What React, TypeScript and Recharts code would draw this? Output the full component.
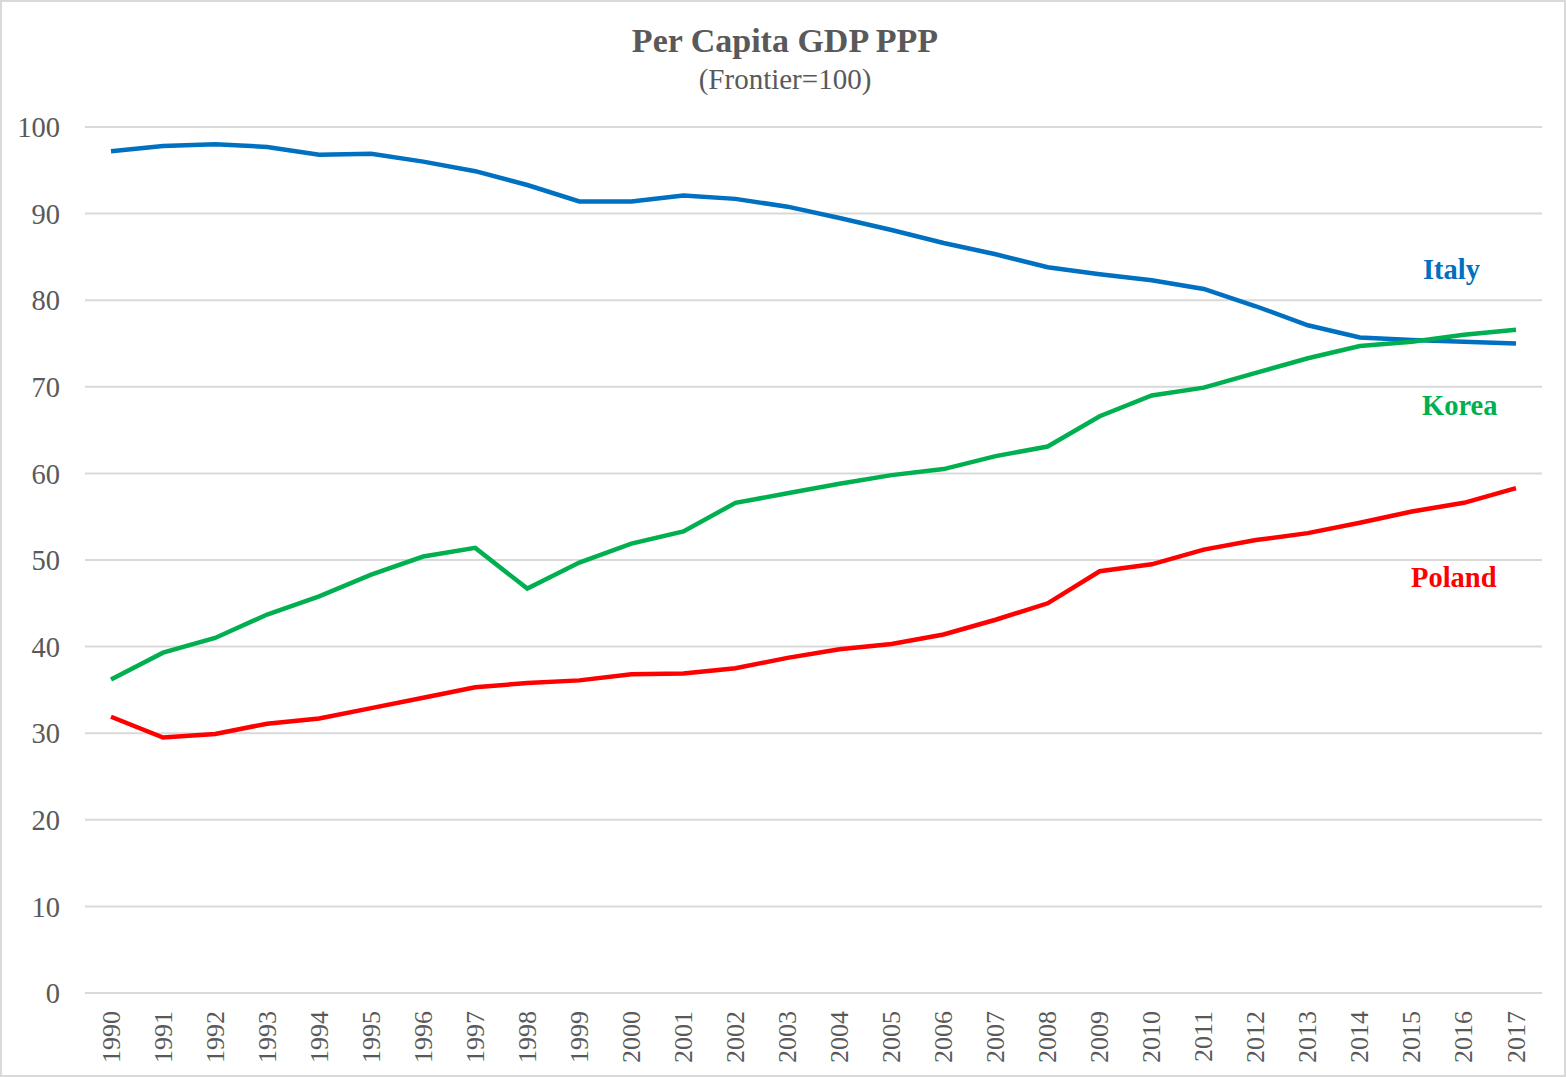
import { LineChart, Line, XAxis, YAxis, CartesianGrid } from 'recharts';

const YEARS = [
  '1990', '1991', '1992', '1993', '1994', '1995', '1996', '1997', '1998', '1999',
  '2000', '2001', '2002', '2003', '2004', '2005', '2006', '2007', '2008', '2009',
  '2010', '2011', '2012', '2013', '2014', '2015', '2016', '2017',
];

const ITALY = [
  97.2, 97.8, 98.0, 97.7, 96.8, 96.9, 96.0, 94.9, 93.3, 91.4,
  91.4, 92.1, 91.7, 90.8, 89.5, 88.1, 86.6, 85.3, 83.8, 83.0,
  82.3, 81.3, 79.3, 77.1, 75.7, 75.4, 75.2, 75.0,
];

const KOREA = [
  36.2, 39.3, 41.0, 43.7, 45.8, 48.3, 50.4, 51.4, 46.7, 49.7,
  51.9, 53.3, 56.6, 57.7, 58.8, 59.8, 60.5, 62.0, 63.1, 66.6,
  69.0, 69.9, 71.6, 73.3, 74.7, 75.2, 76.0, 76.6,
];

const POLAND = [
  31.9, 29.5, 29.9, 31.1, 31.7, 32.9, 34.1, 35.3, 35.8, 36.1,
  36.8, 36.9, 37.5, 38.7, 39.7, 40.3, 41.4, 43.1, 45.0, 48.7,
  49.5, 51.2, 52.3, 53.1, 54.3, 55.6, 56.6, 58.3,
];

const Y_TICKS = [0, 10, 20, 30, 40, 50, 60, 70, 80, 90, 100];

const data = YEARS.map((year, i) => ({
  year,
  italy: ITALY[i],
  korea: KOREA[i],
  poland: POLAND[i],
}));

const FONT = '"Liberation Serif", "Times New Roman", serif';
const TEXT_GRAY = '#595959';

// rotated year labels under the axis
function YearTick(props: any) {
  const { x, y, payload } = props;
  return (
    <text
      x={x}
      y={y + 10}
      transform={`rotate(-90, ${x}, ${y + 10})`}
      textAnchor="end"
      dominantBaseline="central"
      fontFamily={FONT}
      fontSize={26}
      fill={TEXT_GRAY}
    >
      {payload.value}
    </text>
  );
}

const labelStyle = (color: string, left: number, top: number) => ({
  position: 'absolute' as const,
  left,
  top,
  fontFamily: FONT,
  fontWeight: 700,
  fontSize: 28.5,
  color,
  lineHeight: 1,
});

export default function App() {
  return (
    <div style={{ position: 'fixed', left: 0, top: 0, width: 1566, height: 1077, background: '#fff' }}>
      <LineChart
        width={1566}
        height={1077}
        data={data}
        margin={{ top: 127, right: 24, left: 0, bottom: 0 }}
      >
        <CartesianGrid vertical={false} stroke="#d9d9d9" strokeWidth={2} />
        <XAxis
          dataKey="year"
          height={84}
          interval={0}
          padding={{ left: 26, right: 26 }}
          tickLine={false}
          axisLine={{ stroke: '#d9d9d9', strokeWidth: 2 }}
          tick={<YearTick />}
        />
        <YAxis
          domain={[0, 100]}
          ticks={Y_TICKS}
          width={85}
          axisLine={false}
          tickLine={false}
          tickMargin={19}
          tick={{ fontFamily: FONT, fontSize: 28.5, fill: TEXT_GRAY }}
        />
        <Line dataKey="italy" stroke="#0070C0" strokeWidth={4.5} dot={false} isAnimationActive={false} />
        <Line dataKey="korea" stroke="#00B050" strokeWidth={4.5} dot={false} isAnimationActive={false} />
        <Line dataKey="poland" stroke="#FF0000" strokeWidth={4.5} dot={false} isAnimationActive={false} />
      </LineChart>

      <div
        style={{
          position: 'absolute',
          left: 0,
          top: 22,
          width: 1566,
          textAlign: 'center',
          fontFamily: FONT,
          color: TEXT_GRAY,
        }}
      >
        <div style={{ fontSize: 34, fontWeight: 700, lineHeight: '38px', marginLeft: 4 }}>Per Capita GDP PPP</div>
        <div style={{ fontSize: 29, lineHeight: '32px', marginTop: 3, marginLeft: 4 }}>(Frontier=100)</div>
      </div>

      <div style={labelStyle('#0070C0', 1423, 256)}>Italy</div>
      <div style={labelStyle('#00B050', 1422, 392)}>Korea</div>
      <div style={labelStyle('#FF0000', 1411, 564)}>Poland</div>

      <div
        style={{
          position: 'absolute',
          left: 0,
          top: 0,
          width: 1566,
          height: 1077,
          boxSizing: 'border-box',
          border: '2px solid #d9d9d9',
          pointerEvents: 'none',
        }}
      />
    </div>
  );
}
